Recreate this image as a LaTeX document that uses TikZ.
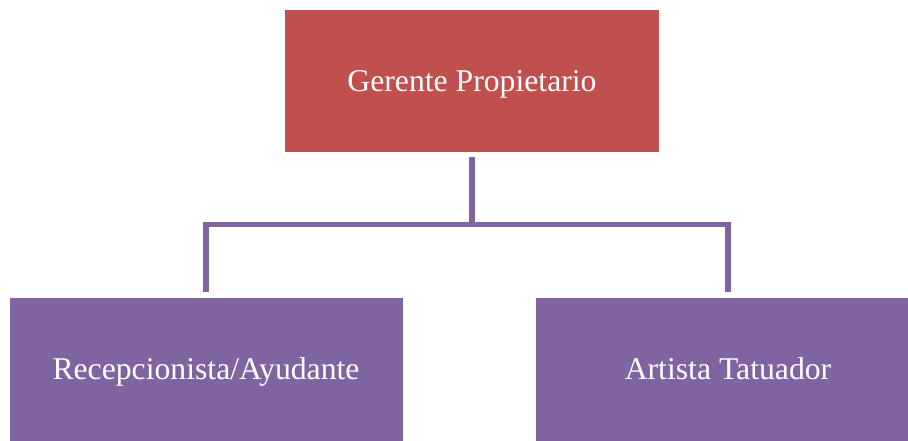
\documentclass[tikz,border=0pt]{standalone}
\usepackage{fontspec}
\setmainfont{Liberation Serif}
\definecolor{chiefred}{HTML}{C0504D}
\definecolor{staffviolet}{HTML}{8064A2}
\begin{document}
\begin{tikzpicture}[x=1pt,y=-1pt,
  box/.style={inner sep=0pt, text=white, text height=22pt, text depth=1pt,
    font=\fontsize{31.7}{38}\selectfont},
  chief/.style={box, fill=chiefred, minimum width=374pt, minimum height=141.5pt},
  staff/.style={box, fill=staffviolet, minimum height=143.5pt},
  conn/.style={draw=staffviolet, line width=5.5pt, line join=miter}]
  \useasboundingbox (0,0) rectangle (908,440);
  \node[chief] (top) at (472,80.75) {Gerente Propietario};
  \node[staff, minimum width=393pt] (left) at (206,369.25) {Recepcionista/Ayudante};
  \node[staff, minimum width=384pt] (right) at (728,369.25) {Artista Tatuador};
  \coordinate (bar) at (472,224.5);
  \draw[conn] ([yshift=-5.5pt]top.south) -- (top.south |- bar);
  \draw[conn] ([yshift=5.5pt]left.north) |- (bar) -| ([yshift=5.5pt]right.north);
\end{tikzpicture}
\end{document}
